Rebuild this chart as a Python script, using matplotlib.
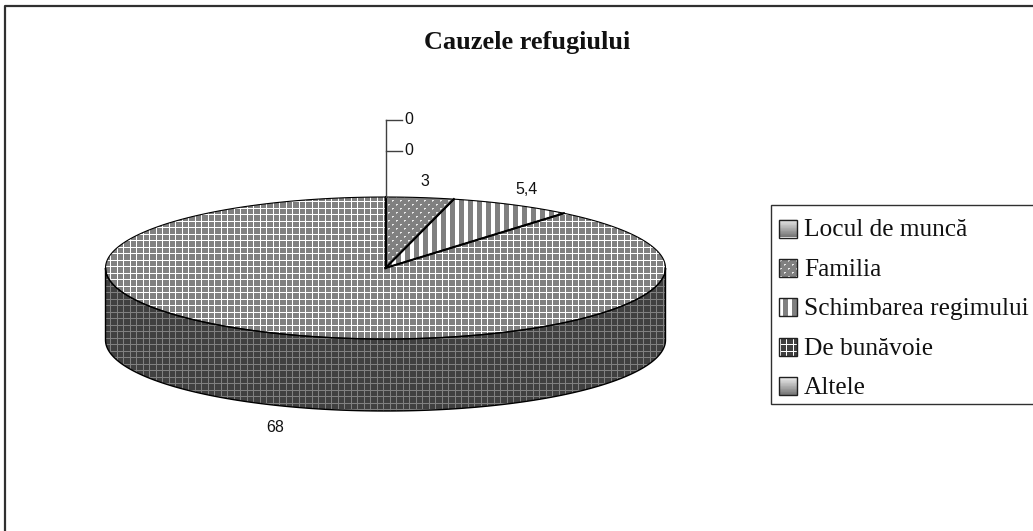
import numpy as np
import matplotlib
matplotlib.use('Agg')
import matplotlib.pyplot as plt
from matplotlib.patches import Polygon, Rectangle

W, H = 1033, 531

title = 'Cauzele refugiului'
categories = ['Locul de muncă', 'Familia', 'Schimbarea regimului', 'De bunăvoie', 'Altele']
values = [0, 3, 5.4, 68, 0]
value_labels = ['0', '3', '5,4', '68', '0']

# pie geometry in pixels
CX, CY = 385.5, 268
RX, RY = 280, 71
DEPTH = 72


def ellipse_pts(a0, a1, n=300, dy=0):
    # angles are degrees clockwise from 12 o'clock
    t = np.radians(np.linspace(a0, a1, n))
    return np.column_stack([CX + RX * np.sin(t), CY - RY * np.cos(t) + dy])


def grid_tile(bg, line):
    t = np.full((13, 13), bg, dtype=float)
    t[[0, 6], :] = line
    t[:, [0, 6]] = line
    return t


def stripe_tile():
    t = np.full((1, 9), 255.0)
    t[0, :5] = 128
    return t


def dots_tile():
    t = np.full((8, 8), 128.0)
    t[0, 0:2] = 235
    t[1, 0:1] = 200
    t[4, 4:6] = 235
    t[5, 4:5] = 200
    return t


def texture(tile):
    ny = H // tile.shape[0] + 1
    nx = W // tile.shape[1] + 1
    return np.tile(tile, (ny, nx))[:H, :W]


def fill(ax, pts, tile, lw=1.0):
    patch = Polygon(pts, closed=True, fc='none', ec='black', lw=lw, zorder=3)
    ax.add_patch(patch)
    im = ax.imshow(texture(tile), cmap='gray', vmin=0, vmax=255, extent=(0, W, H, 0),
                   interpolation='nearest', aspect='auto', zorder=2)
    im.set_clip_path(patch)


fig = plt.figure(figsize=(W / 100, H / 100), dpi=100)
ax = fig.add_axes([0, 0, 1, 1])
ax.axis('off')

# frame, only top and left show
ax.plot([5, 5, W], [H, 5.5, 5.5], color='#303030', lw=1.6, zorder=1)

fracs = np.array(values) / sum(values)
edges = np.concatenate([[0], np.cumsum(fracs) * 360])

# side wall of the big slice
front = ellipse_pts(90, 270)
back = ellipse_pts(270, 90, dy=DEPTH)
fill(ax, np.vstack([front, back]), grid_tile(64, 128), lw=1.0)

# top faces
tiles = [None, dots_tile(), stripe_tile(), grid_tile(128, 255), None]
for i, tile in enumerate(tiles):
    if values[i] == 0:
        continue
    arc = ellipse_pts(edges[i], edges[i + 1])
    fill(ax, np.vstack([[CX, CY], arc]), tile, lw=0.8)

# heavier radial edges between the slices
for a in edges[1:4]:
    if a >= 360:
        continue
    end = ellipse_pts(a, a, n=1)[0]
    ax.plot([CX, end[0]], [CY, end[1]], color='black', lw=1.5, zorder=4)

# leader lines of the two zero slices
ax.plot([CX, CX], [CY - RY, 119.5], color='#404040', lw=1.0, zorder=4)
for y in [119.5, 150.5]:
    ax.plot([CX, 402], [y, y], color='#404040', lw=1.0, zorder=4)

label_pos = [(409, 119.5), (425, 181), (527, 189), (275, 427), (409, 150.5)]
for txt, (x, y) in zip(value_labels, label_pos):
    ax.text(x, y, txt, family='Liberation Sans', fontsize=11.5, ha='center', va='center',
            color='#111111', zorder=5)

ax.text(527, 43, title, family='Liberation Serif', fontsize=18.9, fontweight='bold',
        ha='center', va='center', color='#111111')

# legend
ax.add_patch(Rectangle((771, 205), W - 771 + 5, 199, fc='white', ec='#303030', lw=1.0, zorder=2))
legend_tiles = [None, dots_tile(), stripe_tile(), grid_tile(64, 255), None]
grad = np.linspace(235, 120, 12)[:, None]
for i, name in enumerate(categories):
    y = 228.5 + i * 39.4
    box = (779, y - 9, 18, 18)
    tile = legend_tiles[i]
    if tile is None:
        ax.imshow(grad, cmap='gray', vmin=0, vmax=255, extent=(box[0], box[0] + box[2], box[1] + box[3], box[1]),
                  aspect='auto', zorder=3)
    else:
        sw = Rectangle(box[:2], box[2], box[3], fc='none', zorder=4)
        ax.add_patch(sw)
        im = ax.imshow(texture(tile), cmap='gray', vmin=0, vmax=255, extent=(0, W, H, 0),
                       interpolation='nearest', aspect='auto', zorder=3)
        im.set_clip_path(sw)
    ax.add_patch(Rectangle(box[:2], box[2], box[3], fc='none', ec='#202020', lw=1.0, zorder=5))
    ax.text(804, y + 2, name, family='Liberation Serif', fontsize=18.3, ha='left', va='center',
            color='#111111', zorder=5)

ax.set_xlim(0, W)
ax.set_ylim(H, 0)
fig.savefig('out.png', dpi=100)
